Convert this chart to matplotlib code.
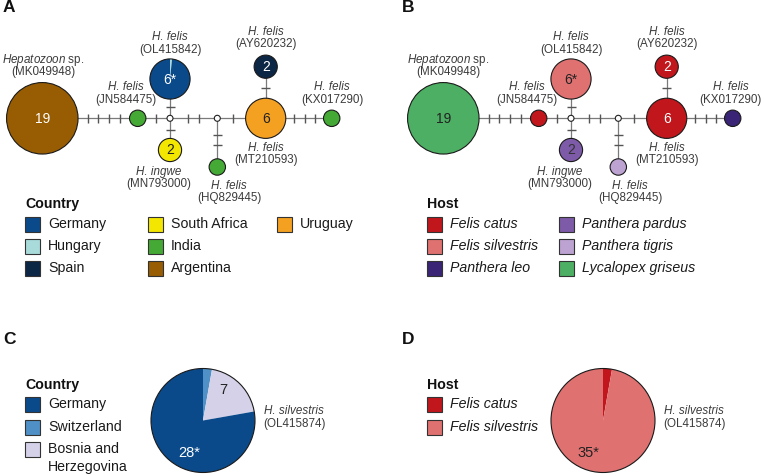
import matplotlib
matplotlib.use("Agg")
import matplotlib.pyplot as plt
from matplotlib.patches import Circle, Wedge, Rectangle
import numpy as np

plt.rcParams['font.family'] = ['Liberation Sans', 'DejaVu Sans']
plt.rcParams['mathtext.fontset'] = 'custom'
plt.rcParams['mathtext.rm'] = 'Liberation Sans'
plt.rcParams['mathtext.it'] = 'Liberation Sans:italic'
plt.rcParams['mathtext.bf'] = 'Liberation Sans:bold'

# ---------------- data ----------------
haplotypes = ['MK049948', 'JN584475', 'OL415842', 'MN793000',
              'HQ829445', 'MT210593', 'AY620232', 'KX017290']
species = [r'$\mathit{Hepatozoon}$ sp.', 'H. felis', 'H. felis', 'H. ingwe',
           'H. felis', 'H. felis', 'H. felis', 'H. felis']
counts = [19, 1, 6, 2, 1, 6, 2, 1]
count_labels = ['19', '', '6*', '2', '', '6', '2', '']

country_comp = [[('Argentina', 1)], [('India', 1)],
                [('Hungary', 1), ('Germany', 59)], [('South Africa', 1)],
                [('India', 1)], [('Uruguay', 1)], [('Spain', 1)], [('India', 1)]]
host_comp = [[('Lycalopex griseus', 1)], [('Felis catus', 1)],
             [('Felis silvestris', 1)], [('Panthera pardus', 1)],
             [('Panthera tigris', 1)], [('Felis catus', 1)],
             [('Felis catus', 1)], [('Panthera leo', 1)]]

# network edges: (from, to, number of mutation steps)
edges = [('MK049948', 'JN584475', 4), ('JN584475', 'mv1', 1),
         ('mv1', 'OL415842', 1), ('mv1', 'MN793000', 1), ('mv1', 'mv2', 2),
         ('mv2', 'HQ829445', 2), ('mv2', 'MT210593', 1),
         ('MT210593', 'AY620232', 1), ('MT210593', 'KX017290', 3)]

countries_A = ['Germany', 'Hungary', 'Spain', 'South Africa', 'India',
               'Argentina', 'Uruguay']
hosts_B = ['Felis catus', 'Felis silvestris', 'Panthera leo',
           'Panthera pardus', 'Panthera tigris', 'Lycalopex griseus']

# OL415874 (H. silvestris)
countries_C = ['Switzerland', 'Bosnia and\nHerzegovina', 'Germany']
counts_C = [1, 7, 28]
labels_C = ['', '7', '28*']
hosts_D = ['Felis catus', 'Felis silvestris']
counts_D = [1, 35]
labels_D = ['', '35*']

# ---------------- styles ----------------
country_colors = {'Germany': '#0a4a8b', 'Hungary': '#a9dbdb', 'Spain': '#0c2645',
                  'South Africa': '#f3e600', 'India': '#45a935',
                  'Argentina': '#985c02', 'Uruguay': '#f4a021',
                  'Switzerland': '#4f91c6', 'Bosnia and\nHerzegovina': '#d5d1e8'}
host_colors = {'Felis catus': '#c0161c', 'Felis silvestris': '#e07171',
               'Panthera leo': '#3a2475', 'Panthera pardus': '#7e5ba8',
               'Panthera tigris': '#bda3d1', 'Lycalopex griseus': '#4daf63'}
txtcol_A = ['white', 'k', 'white', '#222', 'k', '#222', 'white', 'k']
txtcol_B = ['#222', 'k', '#222', '#333', 'k', 'white', 'white', 'k']

pos = {'MK049948': (42.3, 118.3), 'JN584475': (137.7, 118.3), 'mv1': (170, 118.3),
       'OL415842': (170, 79), 'MN793000': (170, 150), 'mv2': (217.3, 118.3),
       'HQ829445': (217.3, 167), 'MT210593': (265.7, 118.3),
       'AY620232': (265.7, 66.7), 'KX017290': (331.7, 118.3)}
label_pos = {'MK049948': (43, 60), 'OL415842': (170, 37), 'AY620232': (266, 32),
             'JN584475': (126, 87), 'KX017290': (332, 87), 'MN793000': (159, 172),
             'HQ829445': (229, 186), 'MT210593': (266, 148)}
label_shift_B = {'MK049948': 4, 'KX017290': -2.5}

LABEL_COLOR = '#3c3c3c'
LABEL_FS = 8.4

fig = plt.figure(figsize=(7.64, 4.76), dpi=100)
ax = fig.add_axes([0, 0, 1, 1])
ax.set_xlim(0, 764)
ax.set_ylim(476, 0)
ax.axis('off')


def radius(name):
    if name.startswith('mv'):
        return 3.0
    return 8.2 * np.sqrt(counts[haplotypes.index(name)])


def draw_network(ox, comp, colmap, txtcols, shifts):
    for a, b, n in edges:
        (x1, y1), (x2, y2) = pos[a], pos[b]
        x1 += ox
        x2 += ox
        ax.plot([x1, x2], [y1, y2], color='#7a7a7a', lw=0.9, zorder=1,
                solid_capstyle='butt')
        L = np.hypot(x2 - x1, y2 - y1)
        ux, uy = (x2 - x1) / L, (y2 - y1) / L
        ra, rb = radius(a), radius(b)
        mid = ra + (L - ra - rb) / 2.0
        sp = 10.7
        for k in range(n):
            t = mid + (k - (n - 1) / 2.0) * sp
            cx, cy = x1 + ux * t, y1 + uy * t
            px, py = -uy * 4.5, ux * 4.5
            ax.plot([cx - px, cx + px], [cy - py, cy + py], color='#555555',
                    lw=1.0, zorder=2, solid_capstyle='butt')
    for name in ['mv1', 'mv2']:
        x, y = pos[name]
        ax.add_patch(Circle((x + ox, y), 3.0, facecolor='white', edgecolor='#222',
                            lw=0.8, zorder=3))
    for i, h in enumerate(haplotypes):
        x, y = pos[h]
        x += ox
        r = radius(h)
        parts = comp[i]
        tot = sum(v for _, v in parts)
        start = -90.0  # top of circle (y axis inverted)
        for key, v in parts:
            ang = 360.0 * v / tot
            if len(parts) == 1:
                ax.add_patch(Circle((x, y), r, facecolor=colmap[key],
                                    edgecolor='none', zorder=3))
            else:
                ax.add_patch(Wedge((x, y), r, start, start + ang,
                                   facecolor=colmap[key], edgecolor='none', zorder=3))
            start += ang
        ax.add_patch(Circle((x, y), r, facecolor='none', edgecolor='#1a1a1a',
                            lw=0.8, zorder=4))
        if count_labels[i]:
            ax.text(x, y + 0.5, count_labels[i], ha='center', va='center',
                    fontsize=10, color=txtcols[i], zorder=5)
        lx, ly = label_pos[h]
        lx += ox + shifts.get(h, 0)
        sp_lab = species[i]
        style = 'normal' if sp_lab.startswith('$') else 'italic'
        ax.text(lx, ly, sp_lab, ha='center', va='center', fontsize=LABEL_FS,
                style=style, color=LABEL_COLOR)
        ax.text(lx, ly + 12.5, '(' + h + ')', ha='center', va='center',
                fontsize=LABEL_FS, color=LABEL_COLOR)


def legend(x0, y0, title, items, colmap, cols_x, rows_y, italic=False):
    ax.text(x0, y0, title, ha='left', va='center', fontsize=10.2,
            fontweight='bold', color='#111')
    nrow = len(rows_y)
    for i, it in enumerate(items):
        cx = cols_x[i // nrow]
        cy = rows_y[i % nrow]
        ax.add_patch(Rectangle((cx, cy - 7.5), 15, 15, facecolor=colmap[it],
                               edgecolor='#333', lw=0.8))
        for j, line in enumerate(it.split('\n')):
            ax.text(cx + 23, cy + j * 17.5, line, ha='left', va='center',
                    fontsize=10.2, style='italic' if italic else 'normal',
                    color='#1a1a1a')


def pie(cx, cy, r, vals, keys, colmap, labels, lab_pos, lab_cols, name_x):
    tot = sum(vals)
    start = -90.0
    for v, k in zip(vals, keys):
        ang = 360.0 * v / tot
        ax.add_patch(Wedge((cx, cy), r, start, start + ang, facecolor=colmap[k],
                           edgecolor='none', zorder=3))
        start += ang
    ax.add_patch(Circle((cx, cy), r, facecolor='none', edgecolor='#1a1a1a',
                        lw=0.8, zorder=4))
    for lab, (lx, ly), c in zip(labels, lab_pos, lab_cols):
        if lab:
            ax.text(lx, ly, lab, ha='center', va='center', fontsize=10.5,
                    color=c, zorder=5)
    ax.text(name_x, 411.5, 'H. silvestris', ha='center', va='center',
            fontsize=LABEL_FS, style='italic', color=LABEL_COLOR)
    ax.text(name_x, 424, '(OL415874)', ha='center', va='center',
            fontsize=LABEL_FS, color=LABEL_COLOR)


# panel letters
for lx, ly, t in [(3, 8, 'A'), (402, 8, 'B'), (3, 340, 'C'), (402, 340, 'D')]:
    ax.text(lx, ly, t, ha='left', va='center', fontsize=12.5, fontweight='bold',
            color='#111')

draw_network(0, country_comp, country_colors, txtcol_A, {})
draw_network(401, host_comp, host_colors, txtcol_B, label_shift_B)

legend(25, 204, 'Country', countries_A, country_colors, [25, 148, 277],
       [224, 246, 268])
legend(427, 204, 'Host', hosts_B, host_colors, [427, 559], [224, 246, 268],
       italic=True)
legend(25, 385, 'Country', countries_C[2:] + countries_C[:2],
       country_colors, [25], [404, 427, 449])
legend(427, 385, 'Host', hosts_D, host_colors, [427], [404, 427], italic=True)

pie(203, 420.5, 52, counts_C, countries_C, country_colors, labels_C,
    [(0, 0), (223, 390), (189, 453)], ['k', '#222', 'white'], 294)
pie(603, 420.5, 52, counts_D, hosts_D, host_colors, labels_D,
    [(0, 0), (588, 453)], ['k', '#222'], 694)

fig.savefig('out.png', dpi=100)
